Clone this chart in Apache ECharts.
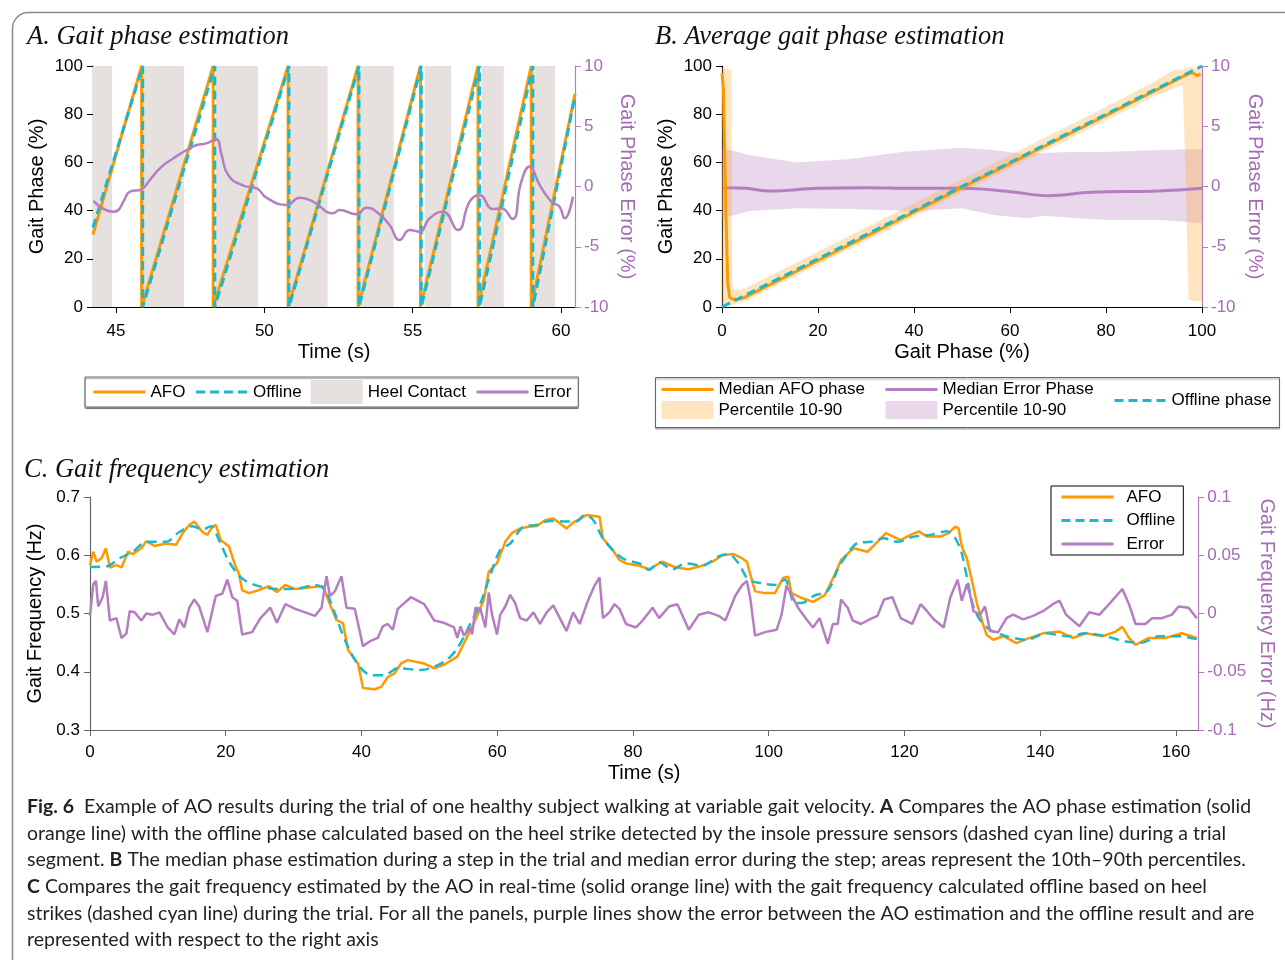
<!DOCTYPE html>
<html>
<head>
<meta charset="utf-8">
<script src="https://cdn.jsdelivr.net/npm/echarts@6/dist/echarts.min.js"></script>
<style>
  html, body { margin: 0; padding: 0; background: #fff; }
  #chart { width: 1285px; height: 960px; }
</style>
</head>
<body>
<div id="chart"></div>
<script>
// ---------- Panel A: gait phase over a trial segment ----------
const heelContactA = [[44.2, 44.87], [45.92, 47.29], [48.37, 49.79], [50.86, 52.13], [53.19, 54.36], [55.4, 56.3], [57.31, 58.07], [59.07, 59.8]];
const afoPhaseA = [[44.225, 30], [45.865, 100], [45.865, 0], [48.275, 100], [48.275, 0], [50.80, 100], [50.80, 0], [53.16, 100], [53.16, 0], [55.26, 100], [55.26, 0], [57.20, 100], [57.20, 0], [58.995, 100], [58.995, 0], [60.47, 88.5]];
const offlinePhaseA = [[44.225, 33], [45.90, 100], [45.90, 0], [48.33, 100], [48.33, 0], [50.83, 100], [50.83, 0], [53.19, 100], [53.19, 0], [55.29, 100], [55.29, 0], [57.25, 100], [57.25, 0], [59.05, 100], [59.05, 0], [60.47, 87.5]];
const errorPhaseA = [[44.24, -1.2], [44.91, -2.1], [45.08, -1.95], [45.25, -1.26], [45.47, -0.43], [45.86, -0.23], [46.14, 0.54], [46.54, 1.65], [46.93, 2.33], [47.38, 3.03], [47.72, 3.44], [48.05, 3.58], [48.37, 3.94], [48.56, 2.61], [48.78, 0.95], [49.29, 0.07], [49.74, -0.15], [50.07, -0.93], [50.75, -1.53], [51.19, -0.93], [51.64, -1.26], [52.32, -2.22], [52.54, -1.95], [53.10, -2.31], [53.44, -1.76], [53.78, -2.09], [54.22, -3.2], [54.56, -4.44], [54.90, -3.61], [55.23, -3.75], [55.57, -2.64], [56.02, -2.09], [56.52, -3.61], [56.92, -1.26], [57.25, -0.71], [57.70, -1.87], [57.99, -1.81], [58.36, -2.7], [58.66, 0.4], [58.94, 1.65], [59.28, 0.12], [59.67, -1.26], [59.95, -1.68], [60.12, -2.64], [60.40, -0.85]];
const timeTicksA = [45, 50, 55, 60];

// ---------- Panel B: average phase over one step ----------
const medianAfoB = [[0, 97], [0.3, 90], [0.8, 40], [1.2, 10], [1.6, 4], [2.2, 3.2], [3.2, 3.2], [4.5, 3.8], [10, 9.3], [20, 19.3], [30, 29.3], [40, 39.4], [50, 49.5], [60, 59.5], [70, 69.5], [80, 79.5], [90, 89.6], [96, 95.6], [97.5, 97.0], [98.2, 97.0], [99.0, 96.0], [99.7, 96.6]];
const afoBandUpperB = [[0, 99.5], [0.6, 99.2], [1.2, 98.8], [2.0, 98.5], [2.1, 10], [2.5, 7.5], [3.5, 7], [5, 8], [10, 13], [20, 23], [30, 33], [40, 43], [50, 53], [60, 63], [70, 73], [80, 83], [90, 93.5], [94, 98.3], [96, 98.5], [97.5, 99.5], [99, 99], [100, 98.5]];
const afoBandLowerB = [[0, 0], [1, 0.5], [3, 1.2], [5, 2.5], [10, 7.5], [20, 17.5], [30, 27.5], [40, 37.5], [50, 47.5], [60, 57.5], [70, 67.5], [80, 77.5], [90, 87.5], [96, 92], [96.5, 60], [97.2, 3], [98.5, 2.5], [99.7, 2.5], [100, 2.5]];
const medianErrorB = [[0.3, -0.1], [5, -0.15], [10, -0.37], [20, -0.15], [30, -0.1], [40, -0.15], [50, -0.15], [60, -0.43], [68, -0.76], [77, -0.48], [91, -0.37], [100, -0.15]];
const errorBandUpperB = [[0, 3.17], [3, 2.9], [5.8, 2.6], [15.6, 2.0], [26.7, 2.28], [37.8, 2.89], [49.6, 3.22], [56.5, 3.03], [63.5, 2.67], [70.4, 2.84], [80.8, 2.89], [91.3, 3.03], [100, 3.11]];
const errorBandLowerB = [[0, -2.64], [5.8, -2.03], [15.6, -1.81], [26.7, -1.87], [40.5, -2.03], [50, -1.81], [56.5, -2.37], [63.5, -2.64], [67, -2.42], [73.9, -2.64], [80.8, -2.78], [91.3, -2.78], [100, -3.05]];
const offlineB = [[0, 0], [100, 100]];

// ---------- Panel C: gait frequency over the whole trial ----------
const afoFreqC = [[0, 0.583], [0.48, 0.606], [0.98, 0.589], [1.71, 0.595], [2.34, 0.612], [2.93, 0.579], [3.90, 0.583], [4.64, 0.579], [5.60, 0.606], [6.33, 0.602], [7.56, 0.612], [8.29, 0.624], [9.51, 0.616], [11.22, 0.620], [12.68, 0.618], [13.65, 0.638], [14.63, 0.652], [15.36, 0.658], [16.57, 0.640], [17.30, 0.635], [18.03, 0.649], [18.53, 0.652], [19.26, 0.626], [20.48, 0.615], [21.46, 0.580], [21.94, 0.569], [22.42, 0.540], [23.40, 0.535], [24.86, 0.540], [26.33, 0.547], [27.54, 0.537], [28.77, 0.549], [30.23, 0.542], [32.66, 0.545], [34.37, 0.547], [35.10, 0.523], [36.31, 0.489], [37.29, 0.483], [38.03, 0.437], [39.49, 0.414], [40.22, 0.372], [41.93, 0.370], [42.90, 0.374], [43.88, 0.391], [44.86, 0.397], [45.82, 0.414], [46.80, 0.420], [49.24, 0.414], [50.71, 0.406], [52.17, 0.412], [54.11, 0.426], [55.09, 0.449], [56.56, 0.483], [58.02, 0.523], [58.75, 0.572], [59.96, 0.586], [61.18, 0.623], [62.16, 0.638], [63.37, 0.646], [64.60, 0.649], [65.81, 0.650], [67.03, 0.660], [68.26, 0.663], [69.22, 0.655], [70.20, 0.646], [71.18, 0.656], [72.15, 0.662], [73.13, 0.669], [75.07, 0.666], [75.57, 0.629], [77.03, 0.609], [78.00, 0.592], [78.98, 0.586], [80.92, 0.582], [82.38, 0.576], [84.34, 0.589], [86.29, 0.579], [88.23, 0.576], [90.19, 0.582], [91.89, 0.590], [93.12, 0.600], [94.81, 0.602], [96.04, 0.595], [96.78, 0.589], [97.51, 0.558], [97.99, 0.538], [99.45, 0.535], [100.91, 0.535], [102.13, 0.561], [102.86, 0.563], [103.36, 0.535], [104.82, 0.527], [106.52, 0.520], [108.23, 0.531], [109.69, 0.566], [110.67, 0.592], [112.5, 0.612], [114.56, 0.606], [116.02, 0.623], [117.25, 0.638], [119.44, 0.626], [120.91, 0.635], [122.12, 0.641], [123.33, 0.632], [125.29, 0.632], [126.51, 0.638], [127.49, 0.649], [127.97, 0.646], [128.45, 0.615], [129.18, 0.595], [129.92, 0.558], [130.65, 0.518], [131.38, 0.489], [132.11, 0.463], [133.09, 0.455], [134.55, 0.461], [136.50, 0.449], [137.96, 0.456], [140.40, 0.466], [142.84, 0.469], [144.79, 0.458], [146.73, 0.466], [149.18, 0.461], [151.12, 0.469], [152.10, 0.477], [153.08, 0.458], [154.05, 0.446], [156.01, 0.458], [158.43, 0.458], [160.88, 0.466], [163.07, 0.458]];
const offlineFreqC = [[0, 0.580], [2.44, 0.581], [4.39, 0.595], [6.33, 0.606], [8.29, 0.623], [11.22, 0.623], [13.16, 0.640], [15.11, 0.650], [16.57, 0.644], [17.80, 0.650], [19.01, 0.626], [20.48, 0.589], [22.42, 0.560], [24.86, 0.547], [27.79, 0.542], [30.71, 0.543], [33.16, 0.549], [34.62, 0.540], [36.08, 0.500], [37.54, 0.455], [39.49, 0.412], [41.43, 0.394], [43.39, 0.394], [45.34, 0.406], [48.75, 0.403], [52.17, 0.417], [54.11, 0.440], [56.06, 0.483], [57.52, 0.517], [58.98, 0.566], [60.45, 0.609], [61.91, 0.620], [63.87, 0.649], [65.81, 0.652], [67.76, 0.659], [70.20, 0.658], [71.66, 0.658], [72.88, 0.669], [74.11, 0.661], [75.57, 0.629], [77.51, 0.603], [78.98, 0.592], [80.92, 0.586], [82.38, 0.575], [83.85, 0.588], [85.81, 0.576], [87.75, 0.586], [90.19, 0.582], [92.62, 0.598], [94.08, 0.602], [95.55, 0.586], [97.01, 0.558], [98.96, 0.552], [100.91, 0.549], [102.38, 0.558], [103.84, 0.518], [104.82, 0.518], [106.76, 0.531], [108.71, 0.539], [110.17, 0.576], [111.15, 0.595], [113.10, 0.621], [115.06, 0.623], [117.00, 0.629], [118.95, 0.623], [121.39, 0.632], [123.83, 0.635], [126.26, 0.641], [127.49, 0.629], [128.45, 0.603], [129.18, 0.563], [130.16, 0.512], [131.14, 0.489], [132.61, 0.472], [135.03, 0.461], [137.96, 0.455], [140.88, 0.466], [143.81, 0.461], [146.73, 0.466], [149.66, 0.461], [152.58, 0.452], [155.03, 0.450], [157.47, 0.461], [160.39, 0.461], [163.07, 0.456]];
const errorFreqC = [[0, -0.002], [0.48, 0.025], [0.88, 0.028], [1.21, 0.006], [1.86, 0.014], [2.34, 0.028], [2.93, -0.006], [3.90, -0.004], [4.64, -0.021], [5.37, -0.017], [5.85, 0.002], [6.58, 0.001], [7.56, -0.006], [8.29, 0.000], [9.26, -0.001], [10.24, 0.001], [11.45, -0.012], [12.43, -0.018], [13.16, -0.005], [13.89, -0.012], [14.63, 0.005], [15.36, 0.012], [16.09, 0.006], [17.30, -0.016], [18.53, 0.015], [19.50, 0.017], [20.23, 0.029], [20.96, 0.014], [21.69, 0.011], [22.42, -0.018], [23.88, -0.016], [25.11, -0.004], [26.57, 0.005], [27.54, -0.008], [28.77, 0.008], [30.23, 0.004], [31.69, 0.001], [33.16, -0.002], [34.12, 0.005], [34.85, 0.032], [35.35, 0.015], [36.08, 0.019], [37.05, 0.032], [37.78, 0.005], [39.01, 0.004], [40.22, -0.028], [41.20, -0.024], [42.41, -0.021], [43.14, -0.011], [43.88, -0.009], [44.61, -0.014], [45.34, 0.004], [47.28, 0.014], [49.24, 0.008], [50.71, -0.006], [52.17, -0.008], [53.63, -0.012], [54.11, -0.021], [54.60, -0.011], [55.09, -0.019], [56.06, -0.012], [56.31, -0.018], [56.79, 0.005], [57.52, 0.004], [58.25, -0.012], [58.75, 0.018], [59.23, -0.001], [59.96, -0.018], [60.45, -0.001], [61.18, 0.006], [61.91, 0.016], [62.64, 0.009], [63.37, -0.004], [64.35, -0.006], [65.33, 0.001], [66.30, -0.009], [67.28, 0.001], [68.26, 0.007], [69.22, -0.004], [70.20, -0.015], [71.18, 0.001], [72.15, -0.009], [73.37, 0.011], [74.34, 0.024], [75.07, 0.031], [75.57, -0.004], [76.53, 0.001], [77.26, 0.008], [78.00, 0.004], [78.98, -0.009], [80.44, -0.012], [81.42, -0.006], [82.88, 0.005], [83.85, -0.004], [85.31, 0.006], [86.54, 0.008], [88.23, -0.014], [89.70, -0.001], [91.16, 0.001], [92.62, -0.002], [93.60, -0.006], [95.06, 0.015], [96.04, 0.024], [96.78, 0.028], [97.26, 0.014], [97.99, -0.019], [99.45, -0.016], [101.16, -0.014], [101.89, -0.001], [102.62, 0.024], [103.36, 0.016], [104.32, 0.005], [105.55, -0.005], [106.52, -0.012], [107.50, -0.004], [108.71, -0.026], [109.44, -0.009], [110.17, -0.009], [110.67, 0.012], [111.63, 0.005], [112.37, -0.006], [113.59, -0.009], [114.56, -0.006], [116.02, -0.002], [117.00, 0.012], [118.22, 0.014], [119.44, -0.004], [121.14, -0.009], [122.37, 0.008], [123.33, 0.002], [124.31, -0.005], [125.78, -0.012], [126.76, 0.014], [127.83, 0.029], [128.45, 0.011], [129.18, 0.025], [129.68, 0.016], [130.16, 0.002], [131.14, -0.001], [131.87, 0.006], [132.61, -0.015], [133.82, -0.016], [135.03, -0.004], [136.01, -0.001], [137.48, -0.005], [138.94, -0.002], [140.40, 0.002], [141.86, 0.008], [142.84, 0.011], [143.81, -0.001], [145.77, -0.011], [147.23, 0.001], [148.72, -0.001], [150.16, 0.008], [152.10, 0.021], [153.08, 0.008], [154.05, -0.009], [155.51, -0.009], [156.49, -0.004], [157.95, -0.004], [159.41, -0.001], [160.39, 0.006], [161.86, 0.005], [163.07, -0.004]];
const timeTicksC = [0, 20, 40, 60, 80, 100, 120, 140, 160];

// ---------- Text ----------
const panelTitles = ['A. Gait phase estimation', 'B. Average gait phase estimation', 'C. Gait frequency estimation'];
const captionLines = [
  '{b|Fig. 6}  Example of AO results during the trial of one healthy subject walking at variable gait velocity. {b|A} Compares the AO phase estimation (solid',
  'orange line) with the offline phase calculated based on the heel strike detected by the insole pressure sensors (dashed cyan line) during a trial',
  'segment. {b|B} The median phase estimation during a step in the trial and median error during the step; areas represent the 10th\u201390th percentiles.',
  '{b|C} Compares the gait frequency estimated by the AO in real-time (solid orange line) with the gait frequency calculated offline based on heel',
  'strikes (dashed cyan line) during the trial. For all the panels, purple lines show the error between the AO estimation and the offline result and are',
  'represented with respect to the right axis'
];

// ---------- Styling ----------
const ORANGE = '#FF9900';
const CYAN = '#1BB8CC';
const PURPLE = '#B57EC0';
const PURPLE_TXT = '#A56BB3';
const HEEL_GRAY = '#E6E1DF';
const ORANGE_FILL = 'rgba(255,170,60,0.32)';
const PURPLE_FILL = 'rgba(181,126,192,0.30)';
const SANS = '"Liberation Sans", Arial, sans-serif';
const CAPTION_FONT = 'Lato, "Open Sans", sans-serif';
const LABEL = { fontFamily: SANS, fontSize: 17, color: '#000' };
const NAME = { fontFamily: SANS, fontSize: 20, color: '#000' };
const LEGEND_TEXT = { fontFamily: SANS, fontSize: 17, color: '#000' };
const LEGEND_LINE = { width: 3 };
// legend swatches: line items show only the stroke, area items a filled box
const lineItem = name => ({ name, itemStyle: { opacity: 0 } });
const boxItem = name => ({ name, icon: 'rect', itemStyle: { opacity: 1 } });

function leftAxis(grid, min, max, interval, name, lineColor, nameGap) {
  return {
    type: 'value', gridIndex: grid, position: 'left', min, max, interval,
    name, nameLocation: 'middle', nameGap, nameTextStyle: NAME,
    axisLine: { show: true, lineStyle: { color: lineColor, width: 1.2 } },
    axisTick: { show: true, inside: false, length: 6, lineStyle: { color: lineColor } },
    axisLabel: Object.assign({ margin: 10 }, LABEL),
    splitLine: { show: false }
  };
}
function rightAxis(grid, min, max, interval, name, nameGap) {
  return {
    type: 'value', gridIndex: grid, position: 'right', min, max, interval,
    name, nameLocation: 'middle', nameGap, nameRotate: -90,
    nameTextStyle: Object.assign({}, NAME, { color: PURPLE_TXT }),
    axisLine: { show: true, lineStyle: { color: PURPLE, width: 1.2 } },
    axisTick: { show: true, inside: false, length: 6, lineStyle: { color: PURPLE } },
    axisLabel: Object.assign({ margin: 9 }, LABEL, { color: PURPLE_TXT }),
    splitLine: { show: false }
  };
}
function bottomAxis(grid, min, max, name, ticks, lineColor, nameGap, labelMargin, interval) {
  const ax = {
    type: 'value', gridIndex: grid, min, max,
    name, nameLocation: 'middle', nameGap, nameTextStyle: NAME,
    axisLine: { show: true, onZero: false, lineStyle: { color: lineColor, width: 1.2 } },
    axisTick: { show: true, inside: false, length: 6, lineStyle: { color: lineColor } },
    axisLabel: Object.assign({ margin: labelMargin }, LABEL),
    splitLine: { show: false }
  };
  if (ticks) {
    ax.axisTick.customValues = ticks;
    ax.axisLabel.customValues = ticks;
  } else {
    ax.interval = interval;
  }
  return ax;
}

// Filled polygon between an upper and a lower edge, placed through the axis scales
function bandSeries(name, xIdx, yIdx, upper, lower, fill, z) {
  return {
    type: 'custom', name, xAxisIndex: xIdx, yAxisIndex: yIdx, z,
    itemStyle: { color: fill },
    data: upper,
    renderItem(params, api) {
      if (params.dataIndex !== 0) return null;
      const pts = upper.map(p => api.coord(p)).concat(lower.slice().reverse().map(p => api.coord(p)));
      return { type: 'polygon', shape: { points: pts }, style: { fill: fill } };
    }
  };
}

const chart = echarts.init(document.getElementById('chart'), null, { renderer: 'canvas' });

const lineSeries = (name, xIdx, yIdx, data, color, opts) => Object.assign({
  type: 'line', name, xAxisIndex: xIdx, yAxisIndex: yIdx, data,
  symbol: 'none', lineStyle: { color, width: 3 }, itemStyle: { color },
  emphasis: { disabled: true }
}, opts || {});

const option = {
  animation: false,
  backgroundColor: '#fff',
  grid: [
    { left: 93, top: 66, width: 482, height: 241 },
    { left: 722, top: 66, width: 480, height: 241 },
    { left: 90, top: 497, width: 1117, height: 233 }
  ],
  xAxis: [
    bottomAxis(0, 44.225, 60.47, 'Time (s)', timeTicksA, '#000', 35, 16),
    bottomAxis(1, 0, 100, 'Gait Phase (%)', null, '#000', 35, 16, 20),
    bottomAxis(2, 0, 163.3, 'Time (s)', timeTicksC, '#666', 33, 14)
  ],
  yAxis: [
    leftAxis(0, 0, 100, 20, 'Gait Phase (%)', '#000', 46),
    rightAxis(0, -10, 10, 5, 'Gait Phase Error (%)', 42),
    leftAxis(1, 0, 100, 20, 'Gait Phase (%)', '#000', 46),
    rightAxis(1, -10, 10, 5, 'Gait Phase Error (%)', 43),
    leftAxis(2, 0.3, 0.7, 0.1, 'Gait Frequency (Hz)', '#666', 44),
    rightAxis(2, -0.1, 0.1, 0.05, 'Gait Frequency Error (Hz)', 50)
  ],
  legend: [
    {
      data: [lineItem('AFO'), lineItem('Offline'), boxItem('Heel Contact'), lineItem('Error')],
      orient: 'horizontal', left: 85, top: 377, itemWidth: 52, itemHeight: 24, itemGap: 9,
      padding: [3, 7, 3, 7], borderColor: '#666', borderWidth: 1, backgroundColor: '#fff',
      shadowColor: 'rgba(0,0,0,0.35)', shadowOffsetY: 1.5, shadowBlur: 1,
      lineStyle: LEGEND_LINE, textStyle: LEGEND_TEXT, selectedMode: false
    },
    {
      data: [lineItem('Median AFO phase'), boxItem('AFO Percentile 10-90')],
      orient: 'vertical', left: 660, top: 381, itemWidth: 52, itemHeight: 18, itemGap: 3, padding: 0,
      formatter: n => n.replace(/^(AFO|Error) /, ''),
      lineStyle: LEGEND_LINE, textStyle: LEGEND_TEXT, selectedMode: false
    },
    {
      data: [lineItem('Median Error Phase'), boxItem('Error Percentile 10-90')],
      orient: 'vertical', left: 884, top: 381, itemWidth: 52, itemHeight: 18, itemGap: 3, padding: 0,
      formatter: n => n.replace(/^(AFO|Error) /, ''),
      lineStyle: LEGEND_LINE, textStyle: LEGEND_TEXT, selectedMode: false
    },
    {
      data: [lineItem('Offline phase')],
      orient: 'vertical', left: 1113, top: 392, itemWidth: 52, itemHeight: 18, padding: 0,
      lineStyle: LEGEND_LINE, textStyle: LEGEND_TEXT, selectedMode: false
    },
    {
      data: [lineItem('AFO'), lineItem('Offline'), lineItem('Error')],
      orient: 'vertical', left: 1051, top: 486, itemWidth: 52, itemHeight: 18, itemGap: 5.5,
      padding: [2, 8, 2, 9], borderColor: '#000', borderWidth: 1, backgroundColor: '#fff',
      lineStyle: LEGEND_LINE,
      textStyle: Object.assign({}, LEGEND_TEXT, { lineHeight: 18, padding: [0, 0, 0, 8] }),
      selectedMode: false, z: 20
    }
  ],
  graphic: [
    { type: 'rect', silent: true, z: -10, shape: { x: 12.5, y: 12.5, width: 1320, height: 1000, r: 16 }, style: { fill: 'none', stroke: '#8a8a8a', lineWidth: 1.5 } },
    { type: 'text', silent: true, style: { text: panelTitles[0], x: 27, y: 37, verticalAlign: 'middle', font: 'italic 26.5px "Liberation Serif", serif', fill: '#111' } },
    { type: 'text', silent: true, style: { text: panelTitles[1], x: 655, y: 37, verticalAlign: 'middle', font: 'italic 26.5px "Liberation Serif", serif', fill: '#111' } },
    { type: 'text', silent: true, style: { text: panelTitles[2], x: 24, y: 470, verticalAlign: 'middle', font: 'italic 26.5px "Liberation Serif", serif', fill: '#111' } },
    { type: 'rect', silent: true, shape: { x: 655.5, y: 377.5, width: 624, height: 50 }, style: { fill: '#fff', stroke: '#666', lineWidth: 1, shadowColor: 'rgba(0,0,0,0.35)', shadowOffsetY: 1.5, shadowBlur: 1 }, z: -1 }
  ].concat(captionLines.map((t, i) => ({
    type: 'text', silent: true,
    style: {
      text: t, x: 27, y: 807 + i * 26.6, verticalAlign: 'middle',
      fontFamily: CAPTION_FONT, fontSize: 19.5, fill: '#231f20',
      rich: { b: { fontFamily: CAPTION_FONT, fontSize: 19.5, fontWeight: 'bold', fill: '#231f20' } }
    }
  }))),
  series: [
    // Panel A
    {
      type: 'custom', name: 'Heel Contact', xAxisIndex: 0, yAxisIndex: 0, z: 1, clip: true,
      itemStyle: { color: HEEL_GRAY },
      data: heelContactA,
      encode: { x: [0, 1] },
      renderItem(params, api) {
        const p0 = api.coord([api.value(0), 100]);
        const p1 = api.coord([api.value(1), 0]);
        return { type: 'rect', shape: { x: p0[0], y: p0[1], width: p1[0] - p0[0], height: p1[1] - p0[1] }, style: { fill: HEEL_GRAY } };
      }
    },
    lineSeries('AFO', 0, 0, afoPhaseA, ORANGE, { z: 3 }),
    lineSeries('Offline', 0, 0, offlinePhaseA, CYAN, { z: 4, lineStyle: { color: CYAN, width: 3, type: [9, 5] } }),
    lineSeries('Error', 0, 1, errorPhaseA, PURPLE, { z: 5, smooth: 0.5, lineStyle: { color: PURPLE, width: 2.5 } }),

    // Panel B
    bandSeries('Error Percentile 10-90', 1, 3, errorBandUpperB, errorBandLowerB, PURPLE_FILL, 1),
    bandSeries('AFO Percentile 10-90', 1, 2, afoBandUpperB, afoBandLowerB, ORANGE_FILL, 2),
    lineSeries('Median Error Phase', 1, 3, medianErrorB, PURPLE, { z: 3, smooth: 0.4, lineStyle: { color: PURPLE, width: 3 } }),
    lineSeries('Median AFO phase', 1, 2, medianAfoB, ORANGE, { z: 4 }),
    lineSeries('Offline phase', 1, 2, offlineB, CYAN, { z: 5, lineStyle: { color: CYAN, width: 3, type: [9, 5] } }),

    // Panel C
    lineSeries('AFO', 2, 4, afoFreqC, ORANGE, { z: 3, lineStyle: { color: ORANGE, width: 2.5 } }),
    lineSeries('Offline', 2, 4, offlineFreqC, CYAN, { z: 4, smooth: 0.3, lineStyle: { color: CYAN, width: 2.5, type: [10, 6] } }),
    lineSeries('Error', 2, 5, errorFreqC, PURPLE, { z: 5, lineStyle: { color: PURPLE, width: 2.5 } })
  ]
};

chart.setOption(option);
</script>
</body>
</html>
